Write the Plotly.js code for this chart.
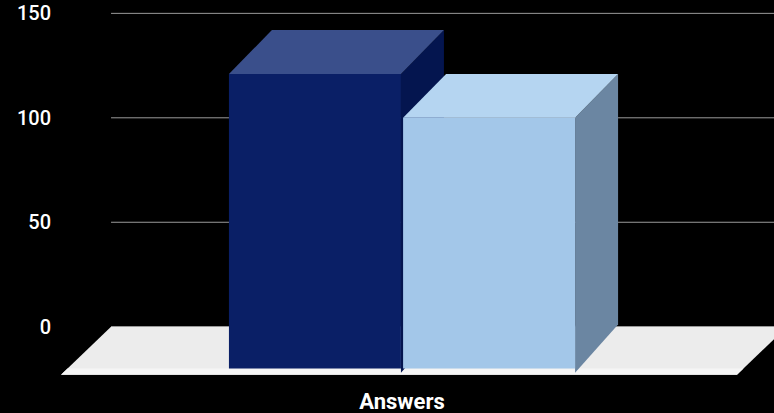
<!DOCTYPE html>
<html>
<head>
<meta charset="utf-8">
<script src="https://cdn.plot.ly/plotly-3.0.1.min.js"></script>
<style>html,body{margin:0;padding:0;background:#000;}#chart{width:774px;height:413px;}</style>
</head>
<body>
<div id="chart"></div>
<script>
// ---- data ----
const categories = ['Answers'];
const seriesNames = ['Series 1', 'Series 2'];
const seriesValues = [[121], [100]];
const yTickVals = [0, 50, 100, 150];
const yTickText = ['0', '50', '100', '150'];

// ---- style ----
const frontColors = ['#0a1f66', '#a3c7e9'];
const topColors = ['#3a4f8b', '#b5d5f1'];
const sideColors = ['#04154f', '#6b86a2'];
const BAR_W = 0.4, GAP = 0.005, DX = 0.1, DY = 21, BASE = -20;
const FLOOR_FRONT = -23, FLOOR_DX = 0.1163, FLOOR_L = -0.793, FLOOR_R = 0.779;

const traces = [];
// floor
traces.push({
  type: 'scatter', mode: 'none', fill: 'toself', fillcolor: '#ececec',
  x: [FLOOR_L, FLOOR_R, FLOOR_R + FLOOR_DX, FLOOR_L + FLOOR_DX, FLOOR_L],
  y: [FLOOR_FRONT, FLOOR_FRONT, 0, 0, FLOOR_FRONT],
  hoverinfo: 'skip', showlegend: false
});
const stripDx = FLOOR_DX * (BASE - FLOOR_FRONT) / (0 - FLOOR_FRONT);
traces.push({
  type: 'scatter', mode: 'none', fill: 'toself', fillcolor: '#f5f5f5',
  x: [FLOOR_L, FLOOR_R, FLOOR_R + stripDx, FLOOR_L + stripDx, FLOOR_L],
  y: [FLOOR_FRONT, FLOOR_FRONT, BASE, BASE, FLOOR_FRONT],
  hoverinfo: 'skip', showlegend: false
});

const nS = seriesValues.length;
const groupW = nS * BAR_W + (nS - 1) * GAP;
categories.forEach((cat, i) => {
  seriesValues.forEach((vals, j) => {
    const v = vals[i];
    const x0 = i - groupW / 2 + j * (BAR_W + GAP);
    const x1 = x0 + BAR_W;
    const face = (xs, ys, color, name) => traces.push({
      type: 'scatter', mode: 'none', fill: 'toself', fillcolor: color,
      x: xs, y: ys, name: name, hoverinfo: 'skip', showlegend: false
    });
    // side face
    face([x1, x1 + DX, x1 + DX, x1, x1], [BASE - 2, BASE + DY, v + DY, v, BASE - 2], sideColors[j], seriesNames[j]);
    // top face
    face([x0, x1, x1 + DX, x0 + DX, x0], [v, v, v + DY, v + DY, v], topColors[j], seriesNames[j]);
    // front face
    face([x0, x1, x1, x0, x0], [BASE, BASE, v, v, BASE], frontColors[j], seriesNames[j]);
  });
});

const shapes = yTickVals.map(t => ({
  type: 'line', xref: 'x', yref: 'y', layer: 'below',
  x0: FLOOR_L + FLOOR_DX, x1: 2, y0: t, y1: t,
  line: {color: '#9a9a9a', width: 1}
}));

const layout = {
  width: 774, height: 413,
  margin: {l: 52, r: 0, t: 0, b: 30},
  paper_bgcolor: '#000', plot_bgcolor: '#000',
  showlegend: false,
  font: {family: 'Roboto, sans-serif', color: '#fff'},
  xaxis: {
    range: [-0.814, 0.8651], showgrid: false, zeroline: false, showline: false,
    tickvals: categories.map((c, i) => i), ticktext: categories, ticks: '',
    ticklabelstandoff: 3,
    tickfont: {size: 22, color: '#fff', family: 'Roboto, sans-serif', weight: 'bold'},
    fixedrange: true
  },
  yaxis: {
    range: [-26.95, 156.4], showgrid: false, zeroline: false, showline: false,
    tickvals: yTickVals, ticktext: yTickText, ticks: '',
    tickfont: {size: 20, color: '#fff', family: 'Roboto, sans-serif', weight: 500},
    fixedrange: true
  },
  shapes: shapes
};

Plotly.newPlot('chart', traces, layout, {displayModeBar: false, staticPlot: true});
</script>
</body>
</html>
